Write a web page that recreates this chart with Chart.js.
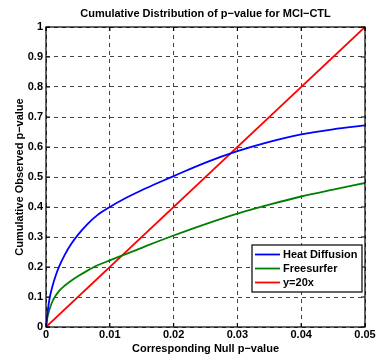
<!DOCTYPE html>
<html><head><meta charset="utf-8">
<script src="https://cdn.jsdelivr.net/npm/chart.js@4/dist/chart.umd.min.js"></script>
<style>html,body{margin:0;padding:0;background:#fff}#wrap{width:376px;height:358px}</style>
</head><body><div id="wrap"><canvas id="c" width="376" height="358"></canvas></div>
<script>
const chartTitle = 'Cumulative Distribution of p\u2212value for MCI\u2212CTL';
const xTitle = 'Corresponding Null p\u2212value';
const yTitle = 'Cumulative Observed p\u2212value';
const nullP = [0, 0.00025, 0.0006, 0.001, 0.0015, 0.002, 0.003, 0.004, 0.005, 0.0065, 0.008, 0.01, 0.0125, 0.015, 0.0175, 0.02, 0.025, 0.03, 0.035, 0.04, 0.045, 0.05];
const heatDiffusion = [0, 0.05, 0.1, 0.135, 0.17, 0.199, 0.243, 0.278, 0.307, 0.343, 0.372, 0.40, 0.43, 0.456, 0.48, 0.503, 0.548, 0.586, 0.617, 0.642, 0.659, 0.672];
const freesurfer = [0, 0.035, 0.062, 0.085, 0.104, 0.119, 0.139, 0.155, 0.169, 0.188, 0.205, 0.222, 0.243, 0.264, 0.285, 0.305, 0.343, 0.378, 0.408, 0.435, 0.458, 0.48];
const refX = [0, 0.05];
const refY = [0, 1];
const seriesNames = ['Heat Diffusion', 'Freesurfer', 'y=20x'];
const xTicks = [0, 0.01, 0.02, 0.03, 0.04, 0.05];
const xTickLabels = ['0', '0.01', '0.02', '0.03', '0.04', '0.05'];
const yTicks = [0, 0.1, 0.2, 0.3, 0.4, 0.5, 0.6, 0.7, 0.8, 0.9, 1];
const yTickLabels = ['0', '0.1', '0.2', '0.3', '0.4', '0.5', '0.6', '0.7', '0.8', '0.9', '1'];

const FONT = 'Liberation Sans, Arial, sans-serif';
const pts = (xs, ys) => xs.map((x, i) => ({x: x, y: ys[i]}));

const framePlugin = {
  id: 'frame',
  afterDraw(chart) {
    const ctx = chart.ctx, a = chart.chartArea;
    const xs = chart.scales.x, ys = chart.scales.y;
    ctx.save();
    // title centred over the plot area
    ctx.fillStyle = '#000';
    ctx.font = 'bold 11px ' + FONT;
    ctx.textAlign = 'center'; ctx.textBaseline = 'middle';
    ctx.fillText(chartTitle, (a.left + a.right) / 2, 14);
    ctx.strokeStyle = '#000'; ctx.lineWidth = 1.2;
    ctx.setLineDash([]);
    ctx.strokeRect(a.left, a.top, a.right - a.left, a.bottom - a.top);
    // inner tick marks
    const L = 4;
    ctx.beginPath();
    xTicks.forEach(v => { const px = xs.getPixelForValue(v);
      ctx.moveTo(px, a.bottom); ctx.lineTo(px, a.bottom - L);
      ctx.moveTo(px, a.top); ctx.lineTo(px, a.top + L); });
    yTicks.forEach(v => { const py = ys.getPixelForValue(v);
      ctx.moveTo(a.left, py); ctx.lineTo(a.left + L, py);
      ctx.moveTo(a.right, py); ctx.lineTo(a.right - L, py); });
    ctx.stroke();
    // legend
    const bx = 252, by = 245, bw = 110, bh = 47;
    ctx.fillStyle = '#fff';
    ctx.fillRect(bx, by, bw, bh);
    ctx.lineWidth = 1.2; ctx.strokeStyle = '#000';
    ctx.strokeRect(bx, by, bw, bh);
    ctx.font = 'bold 11px ' + FONT;
    ctx.textBaseline = 'middle'; ctx.textAlign = 'left';
    chart.data.datasets.forEach((ds, i) => {
      const y = by + 9.5 + i * 14;
      ctx.strokeStyle = ds.borderColor; ctx.lineWidth = 1.8;
      ctx.beginPath(); ctx.moveTo(bx + 3, y); ctx.lineTo(bx + 28, y); ctx.stroke();
      ctx.fillStyle = '#000';
      ctx.fillText(ds.label, bx + 31, y);
    });
    ctx.restore();
  }
};

new Chart(document.getElementById('c'), {
  type: 'line',
  data: {
    datasets: [
      {label: seriesNames[0], data: pts(nullP, heatDiffusion), borderColor: '#0000ff', borderWidth: 1.8, pointRadius: 0, cubicInterpolationMode: 'monotone', fill: false},
      {label: seriesNames[1], data: pts(nullP, freesurfer), borderColor: '#008000', borderWidth: 1.8, pointRadius: 0, cubicInterpolationMode: 'monotone', fill: false},
      {label: seriesNames[2], data: pts(refX, refY), borderColor: '#ff0000', borderWidth: 1.8, pointRadius: 0, fill: false}
    ]
  },
  options: {
    responsive: false, animation: false,
    layout: {padding: {left: 0, right: 11, top: 27, bottom: 0}},
    plugins: {
      legend: {display: false},
      tooltip: {enabled: false},
      title: {display: false}
    },
    scales: {
      x: {
        type: 'linear', min: 0, max: 0.05,
        afterBuildTicks: s => { s.ticks = xTicks.map(v => ({value: v})); },
        afterFit: s => { s.height = 31; s.paddingLeft = 0; s.paddingRight = 0; },
        ticks: {callback: (v, i) => xTickLabels[i], color: '#000', font: {family: FONT, size: 11, weight: 'bold'}, padding: 1, maxRotation: 0, autoSkip: false},
        grid: {color: '#444', lineWidth: 1, drawTicks: false},
        border: {display: false, dash: [4, 4]},
        title: {display: true, text: xTitle, color: '#000', font: {family: FONT, size: 11, weight: 'bold'}, padding: {top: 0, bottom: 2}}
      },
      y: {
        type: 'linear', min: 0, max: 1,
        afterBuildTicks: s => { s.ticks = yTicks.map(v => ({value: v})); },
        afterFit: s => { s.width = 46; s.paddingTop = 0; s.paddingBottom = 0; },
        ticks: {callback: (v, i) => yTickLabels[i], color: '#000', font: {family: FONT, size: 11, weight: 'bold'}, padding: 3, autoSkip: false},
        grid: {color: '#444', lineWidth: 1, drawTicks: false},
        border: {display: false, dash: [4, 4]},
        title: {display: true, text: yTitle, color: '#000', font: {family: FONT, size: 11, weight: 'bold'}, padding: {top: 13, bottom: 0}}
      }
    }
  },
  plugins: [framePlugin]
});
</script>
</body></html>
